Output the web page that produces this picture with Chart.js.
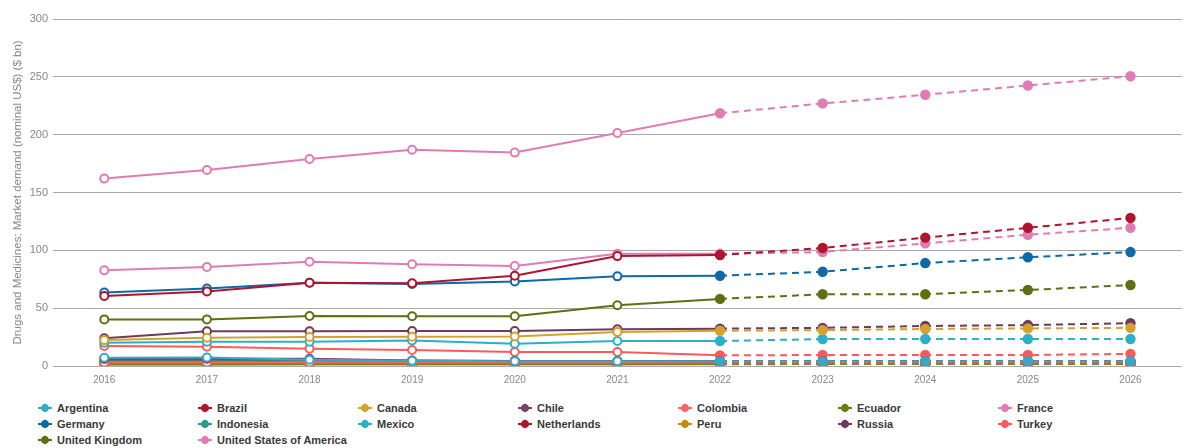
<!DOCTYPE html>
<html>
<head>
<meta charset="utf-8">
<script src="https://cdn.jsdelivr.net/npm/chart.js@4"></script>
<style>
  body { margin: 0; background: #fff; width: 1188px; height: 448px; overflow: hidden; position: relative; }
  #wrap { position: absolute; left: 0; top: 0; width: 1188px; height: 394px; }
  #legend { position: absolute; left: 0; top: 400px; width: 1188px; font: bold 11px "Liberation Sans", Arial, sans-serif; color: #3a3a3a; }
  .item { position: absolute; height: 16px; line-height: 16px; white-space: nowrap; }
  .mk { position: absolute; left: 0; top: 7px; width: 14px; height: 2px; }
  .mk i { position: absolute; left: 3px; top: -3px; width: 8px; height: 8px; border-radius: 50%; transform: rotate(45deg); }
  .lbl { position: absolute; left: 19px; top: 0; }
</style>
</head>
<body>
<div id="wrap"><canvas id="chart"></canvas></div>
<div id="legend"></div>
<script>
// Data (US$ bn), 2016-2021 actual, 2022-2026 forecast
const years = ['2016', '2017', '2018', '2019', '2020', '2021', '2022', '2023', '2024', '2025', '2026'];
const forecastStart = 6; // index of 2022

const argentina   = [7.2, 7.3, 5.5, 4.5, 4.2, 4.2, 4.0, 4.0, 4.2, 4.2, 4.2];
const brazil      = [60.5, 64.5, 72, 71.5, 78, 95, 96, 102, 111, 119.5, 128];
const canada      = [22.4, 24.5, 25, 25.3, 25.5, 29.5, 30.5, 31, 32, 32.5, 33];
const chile       = [6, 6.3, 6.3, 4.8, 4.3, 4.3, 4, 4, 4, 4, 4];
const colombia    = [3, 3, 3, 3, 3, 3, 3, 3, 3, 3, 3];
const ecuador     = [2, 2, 2, 2, 2, 2, 2, 2, 2, 2, 2];
const france      = [82.7, 85.6, 90.2, 88, 86.5, 97, 97, 98.5, 106, 113.5, 119.5];
const germany     = [63.5, 67, 72, 71, 73, 77.5, 78, 81.5, 89, 94, 98.5];
const indonesia   = [4, 4, 4, 4, 3.8, 3.8, 3.5, 3.5, 3.5, 3.5, 3.5];
const mexico      = [20.2, 21, 21, 22, 19.3, 21.6, 21.6, 23.3, 23.3, 23.3, 23.3];
const netherlands = [4.9, 5, 5, 4.5, 4.3, 4.3, 4, 4, 4, 4, 4];
const peru        = [1.1, 1.1, 1.2, 1.3, 1.4, 1.4, 1.5, 1.7, 1.7, 1.7, 1.7];
const russia      = [23.9, 30, 30, 30.2, 30.2, 31.7, 32.3, 33, 34.6, 35.4, 37];
const turkey      = [17.3, 16.7, 15, 13.8, 12.1, 12.1, 9.2, 9.5, 9.5, 9.5, 10.5];
const uk          = [40.3, 40.3, 43.2, 43, 43, 52.5, 58, 62, 62, 65.7, 70];
const usa         = [162, 169.5, 179, 187, 184.5, 201.5, 218.5, 227, 234.5, 242.5, 250.5];

const countries = ['Argentina', 'Brazil', 'Canada', 'Chile', 'Colombia', 'Ecuador', 'France',
  'Germany', 'Indonesia', 'Mexico', 'Netherlands', 'Peru', 'Russia', 'Turkey',
  'United Kingdom', 'United States of America'];
const seriesValues = [argentina, brazil, canada, chile, colombia, ecuador, france,
  germany, indonesia, mexico, netherlands, peru, russia, turkey, uk, usa];
const colors = ['#37a9c4', '#b0142e', '#d4a22c', '#7a4068', '#ff6464', '#6b7a12', '#e07cb4',
  '#0d6aa6', '#2b9c88', '#2ab0c8', '#b0142e', '#c28c12', '#6e3a5e', '#ff5a5a',
  '#5f7012', '#e07cb4'];

const yTicks = [0, 50, 100, 150, 200, 250, 300];

const datasets = countries.map((name, k) => {
  const c = colors[k];
  const vals = seriesValues[k];
  return {
    label: name,
    data: vals,
    borderColor: c,
    borderWidth: 2,
    pointBorderColor: c,
    pointBackgroundColor: vals.map((v, i) => i < forecastStart ? '#fff' : c),
    pointRadius: vals.map((v, i) => i < forecastStart ? 4 : 4.2),
    pointBorderWidth: 2,
    tension: 0,
    segment: {
      borderDash: ctx => ctx.p0DataIndex >= forecastStart ? [7, 5] : undefined
    }
  };
});

new Chart(document.getElementById('chart'), {
  type: 'line',
  data: { labels: years, datasets: datasets },
  options: {
    responsive: true,
    maintainAspectRatio: false,
    animation: false,
    layout: { padding: { top: 19, right: 0, left: 0, bottom: 0 } },
    plugins: { legend: { display: false }, tooltip: { enabled: false } },
    scales: {
      x: {
        offset: true,
        grid: { display: false, drawTicks: false },
        border: { display: false },
        ticks: { color: '#888', font: { family: 'Liberation Sans', size: 10 }, padding: 8 },
        afterFit: s => { s.height = 28; }
      },
      y: {
        min: 0,
        max: 300,
        afterBuildTicks: s => { s.ticks = yTicks.map(v => ({ value: v })); },
        grid: { color: '#a8a8a8', lineWidth: 1, drawTicks: false },
        border: { display: false },
        ticks: { color: '#888', font: { family: 'Liberation Sans', size: 11 }, padding: 5 },
        title: {
          display: true,
          text: 'Drugs and Medicines: Market demand (nominal US$) ($ bn)',
          color: '#888',
          font: { family: 'Liberation Sans', size: 11.5 },
          padding: { top: 11, bottom: 0 }
        },
        afterFit: s => { s.width = 53; }
      }
    }
  }
});

// Legend: 7 fixed columns
const legendEl = document.getElementById('legend');
countries.forEach((name, k) => {
  const col = k % 7, row = Math.floor(k / 7);
  const el = document.createElement('div');
  el.className = 'item';
  el.style.left = (38 + col * 160) + 'px';
  el.style.top = (row * 16) + 'px';
  el.innerHTML = `<span class="mk" style="background:${colors[k]}"><i style="background:${colors[k]}"></i></span><span class="lbl">${name}</span>`;
  legendEl.appendChild(el);
});
</script>
</body>
</html>
